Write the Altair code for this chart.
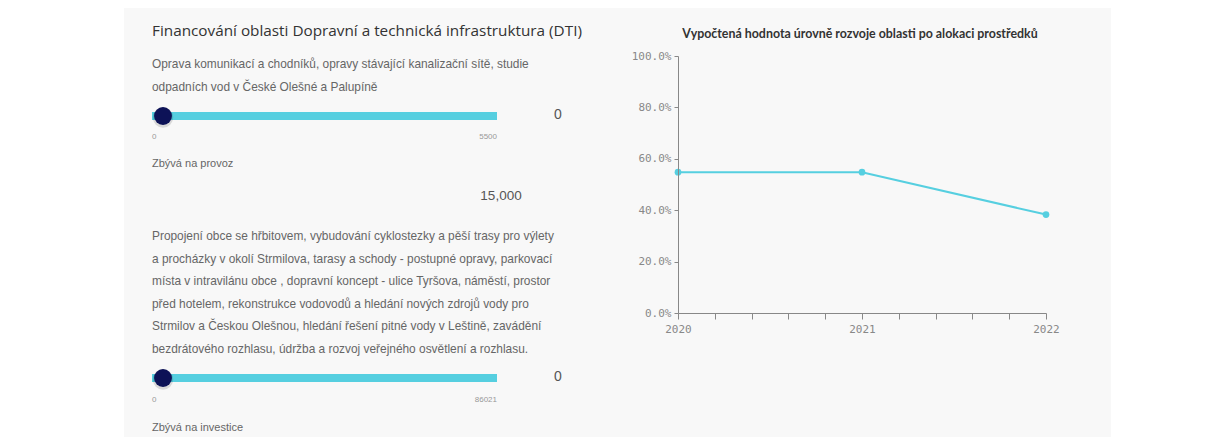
import altair as alt
import pandas as pd

# ---------------- data ----------------
years = [2020, 2021, 2022]
level = [0.548, 0.548, 0.383]

heading = "Financování oblasti Dopravní a technická infrastruktura (DTI)"
chart_title = "Vypočtená hodnota úrovně rozvoje oblasti po alokaci prostředků"
desc_provoz = [
    "Oprava komunikací a chodníků, opravy stávající kanalizační sítě, studie",
    "odpadních vod v České Olešné a Palupíně",
]
desc_investice = [
    "Propojení obce se hřbitovem, vybudování cyklostezky a pěší trasy pro výlety",
    "a procházky v okolí Strmilova, tarasy a schody - postupné opravy, parkovací",
    "místa v intravilánu obce , dopravní koncept - ulice Tyršova, náměstí, prostor",
    "před hotelem, rekonstrukce vodovodů a hledání nových zdrojů vody pro",
    "Strmilov a Českou Olešnou, hledání řešení pitné vody v Leštině, zavádění",
    "bezdrátového rozhlasu, údržba a rozvoj veřejného osvětlení a rozhlasu.",
]
remaining_labels = ["Zbývá na provoz", "Zbývá na investice"]
slider_min = [0, 0]
slider_max = [5500, 86021]
slider_value = [0, 0]
remaining_provoz = [15000]

x_tick_values = [2020, 2020.2, 2020.4, 2020.6, 2020.8, 2021,
                 2021.2, 2021.4, 2021.6, 2021.8, 2022]
y_tick_values = [0, 0.2, 0.4, 0.6, 0.8, 1.0]

# ---------------- style ----------------
TEAL = "#56cfe0"
NAVY = "#0d1257"
PANEL = "#f8f8f8"
BODY = "Liberation Sans"
HEAD = "Open Sans"
TITLE_FONT = "Lato"
MONO = "DejaVu Sans Mono"

OX, OY = 678, 56  # page position of the plot origin


def px(x):
    return x - OX


def py(y):
    return y - OY


one = pd.DataFrame({"k": [0]})


def text_layer(txt, x, y, size, color, font=BODY, align="left", weight="normal",
               baseline="alphabetic", line_height=None):
    kw = dict(align=align, baseline=baseline, fontSize=size, color=color,
              font=font, fontWeight=weight)
    if line_height is not None:
        kw["lineHeight"] = line_height
    return alt.Chart(one).mark_text(**kw).encode(
        x=alt.value(px(x)), y=alt.value(py(y)), text=alt.value(txt)
    )


bg = alt.Chart(one).mark_rect(color=PANEL).encode(
    x=alt.value(px(124)), x2=alt.value(px(1111)),
    y=alt.value(-48), y2=alt.value(381),
)


def slider(i, y_track, y_ticklab):
    df = pd.DataFrame({"min": [slider_min[i]], "max": [slider_max[i]],
                       "value": [slider_value[i]]})
    sc = alt.Scale(domain=[slider_min[i], slider_max[i]],
                   range=[px(152), px(497)], nice=False, zero=False)
    ksc = alt.Scale(domain=[slider_min[i], slider_max[i]],
                    range=[px(163), px(486)], nice=False, zero=False)
    base = alt.Chart(df)
    track = base.mark_rule(color=TEAL, strokeWidth=8).encode(
        x=alt.X("min:Q", scale=sc, axis=None), x2="max:Q",
        y=alt.value(py(y_track)))
    shadow = base.mark_circle(color="#000000", opacity=0.12, size=420).encode(
        x=alt.X("value:Q", scale=ksc, axis=None), y=alt.value(py(y_track) + 1.5))
    knob = base.mark_circle(color=NAVY, opacity=1, size=320).encode(
        x=alt.X("value:Q", scale=ksc, axis=None), y=alt.value(py(y_track)))
    lo = base.mark_text(align="left", fontSize=8, color="#999999", font=BODY).encode(
        x=alt.X("min:Q", scale=sc, axis=None), y=alt.value(py(y_ticklab)),
        text=alt.Text("min:Q", format="d"))
    hi = base.mark_text(align="right", fontSize=8, color="#999999", font=BODY).encode(
        x=alt.X("max:Q", scale=sc, axis=None), y=alt.value(py(y_ticklab)),
        text=alt.Text("max:Q", format="d"))
    val = base.mark_text(align="center", baseline="middle", fontSize=14,
                         color="#555555", font=BODY).encode(
        x=alt.value(px(558)), y=alt.value(py(y_track - 1)),
        text=alt.Text("value:Q", format="d"))
    return alt.layer(track, shadow, knob, lo, hi, val).resolve_scale(x="independent")


rem_df = pd.DataFrame({"rest": remaining_provoz})
rem_text = alt.Chart(rem_df).mark_text(align="center", fontSize=13.5, color="#555555",
                                       font=BODY).encode(
    x=alt.value(px(501)), y=alt.value(py(196)), text=alt.Text("rest:Q", format=","))

# ---------------- line chart ----------------
line_df = pd.DataFrame({"year": years, "level": level})
axis_style = dict(domainColor="#888888", tickColor="#888888", labelColor="#888888",
                  labelFont=MONO, labelFontSize=11, grid=False, title=None, zindex=1,
                  labelOverlap=False, labelFlush=False)
x_enc = alt.X("year:Q", scale=alt.Scale(domain=[2020, 2022], nice=False, zero=False),
              axis=alt.Axis(values=x_tick_values, tickSize=6, labelPadding=4,
                            labelExpr="datum.value % 1 === 0 ? format(datum.value, 'd') : ''",
                            **axis_style))
y_enc = alt.Y("level:Q", scale=alt.Scale(domain=[0, 1], nice=False),
              axis=alt.Axis(values=y_tick_values, format=".1%", tickSize=4,
                            labelPadding=3, **axis_style))
line = alt.Chart(line_df).mark_line(color=TEAL, strokeWidth=2).encode(x=x_enc, y=y_enc)
pts = alt.Chart(line_df).mark_circle(color=TEAL, opacity=1, size=45).encode(x=x_enc, y=y_enc)
line_chart = alt.layer(line, pts)

chart = alt.layer(
    bg,
    text_layer(heading, 152, 36, 15.3, "#333333", font=HEAD),
    text_layer(desc_provoz, 152, 68, 11.9, "#666666", line_height=22.5),
    slider(0, 116, 137),
    text_layer(remaining_labels[0], 152, 167, 11, "#666666"),
    rem_text,
    text_layer(desc_investice, 152, 240, 11.9, "#666666", line_height=22.5),
    slider(1, 378, 400),
    text_layer(remaining_labels[1], 152, 431, 11, "#666666"),
    text_layer(chart_title, 860, 38, 12.4, "#333333", font=TITLE_FONT, align="center",
               weight="bold"),
    line_chart,
).resolve_scale(x="independent", y="independent").properties(
    width=368, height=257,
    padding={"left": 670, "top": 48, "right": 173, "bottom": 124},
    autosize=alt.AutoSizeParams(type="none"),
    background="white",
).configure_view(stroke=None)

chart.save("out.html", embed_options={"renderer": "svg", "actions": False})
